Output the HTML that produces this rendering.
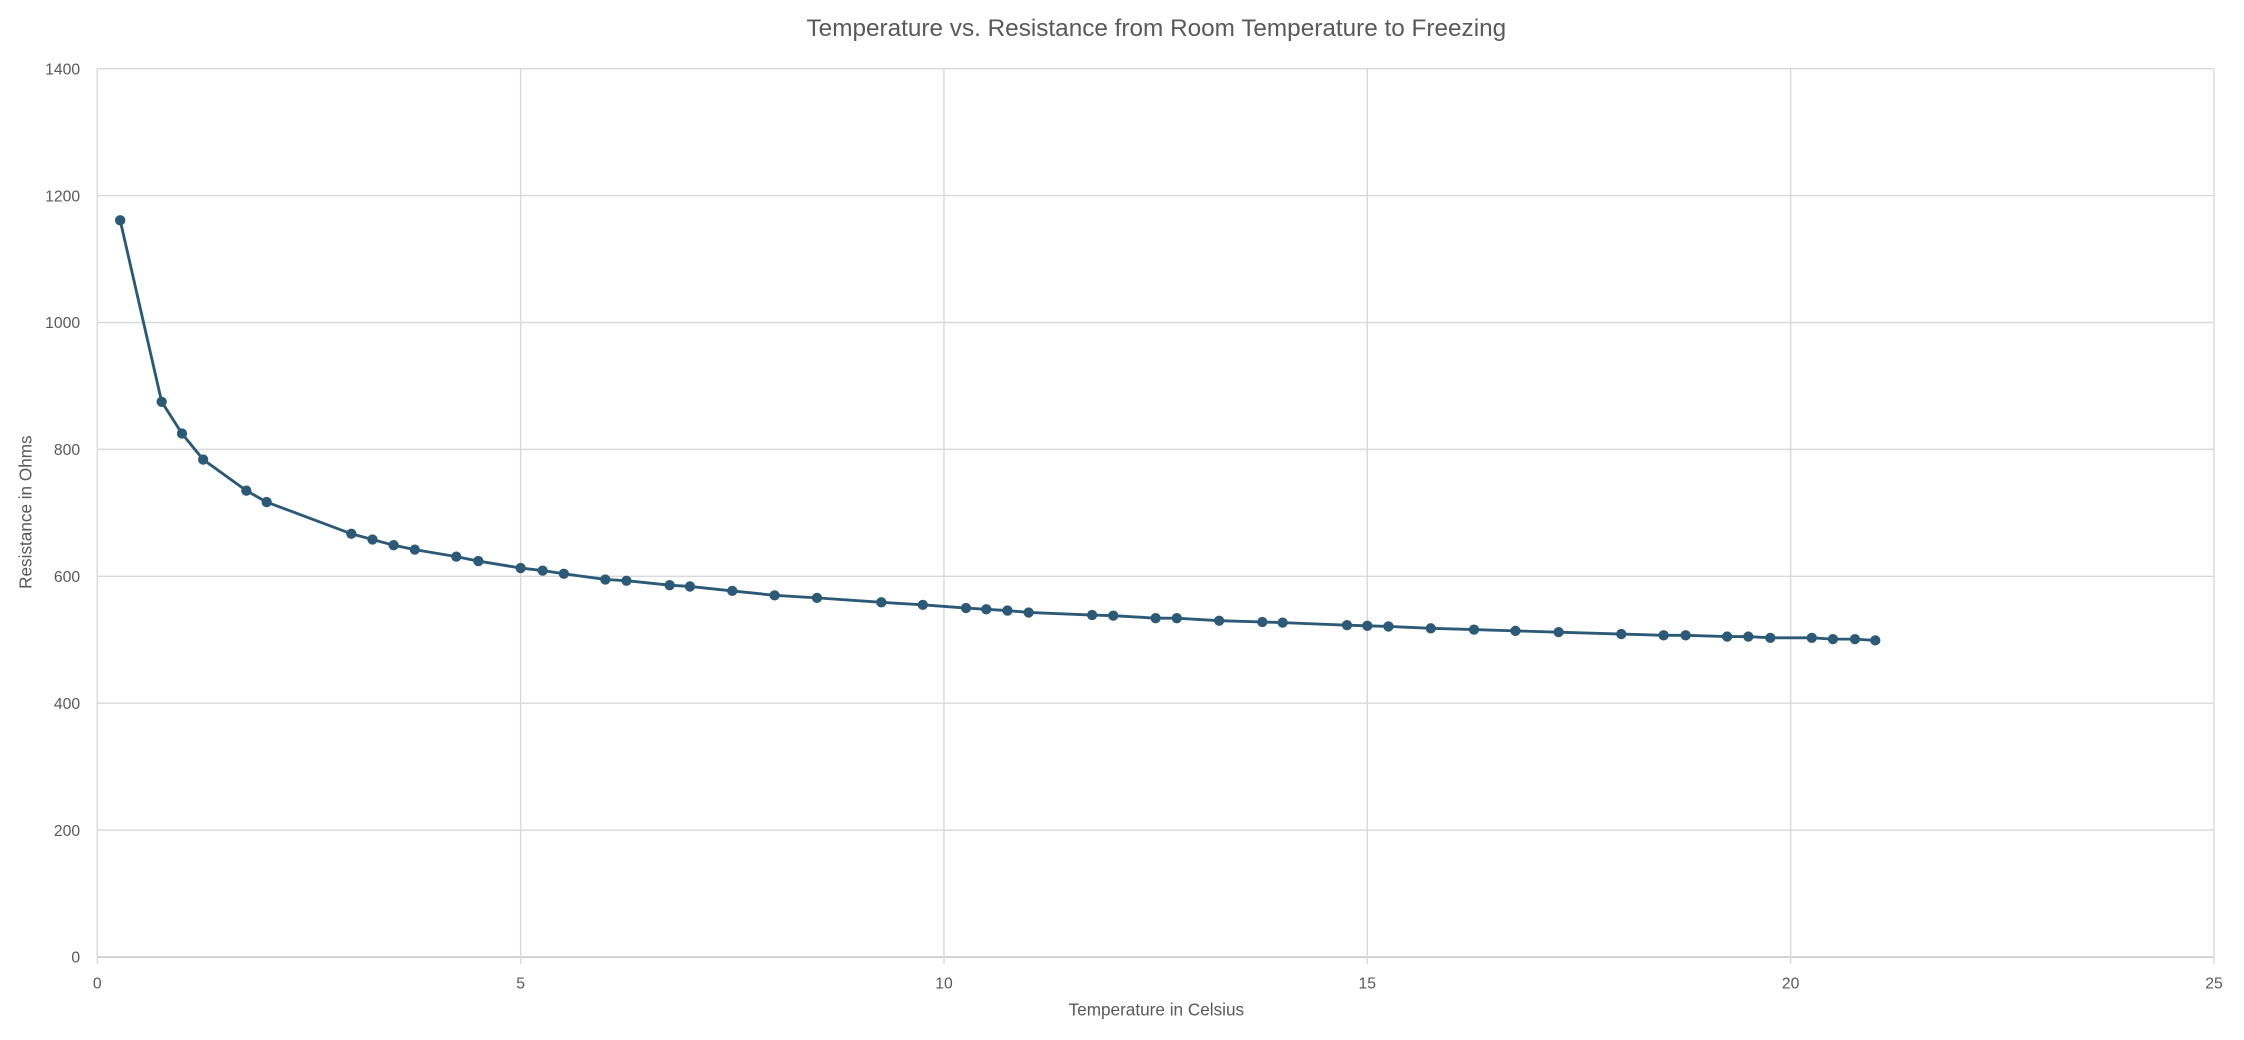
<!DOCTYPE html>
<html><head><meta charset="utf-8"><style>
html,body{margin:0;padding:0;background:#fff;overflow:hidden;}
svg{display:block;font-family:"Liberation Sans",sans-serif;}
</style></head><body>
<svg id="chart" width="2244" height="1040" viewBox="0 0 1568 727" preserveAspectRatio="none">
<rect width="1568" height="727" fill="#fff"/>
<text x="808" y="25" text-anchor="middle" font-size="17" fill="#595959">Temperature vs. Resistance from Room Temperature to Freezing</text>
<g id="grid"></g>
<g id="ticks"></g>
<g id="series"></g>
<text x="808" y="710" text-anchor="middle" font-size="12" fill="#595959">Temperature in Celsius</text>
<text transform="translate(22,358) rotate(-90)" text-anchor="middle" font-size="12" fill="#595959">Resistance in Ohms</text>
</svg>
<script>
const temps=[0.27,0.76,1.0,1.25,1.76,2.0,3.0,3.25,3.5,3.75,4.24,4.5,5.0,5.26,5.51,6.0,6.25,6.76,7.0,7.5,8.0,8.5,9.26,9.75,10.26,10.5,10.75,11.0,11.75,12.0,12.5,12.75,13.25,13.76,14.0,14.76,15.0,15.25,15.75,16.26,16.75,17.26,18.0,18.5,18.76,19.25,19.5,19.76,20.25,20.5,20.76,21.0];
const resistances=[1161,875,825,784,735,717,667,658,649,642,631,624,613,609,604,595,593,586,584,577,570,566,559,555,550,548,546,543,539,538,534,534,530,528,527,523,522,521,518,516,514,512,509,507,507,505,505,503,503,501,501,499];
const xTicks=[0,5,10,15,20,25];
const yTicks=[0,200,400,600,800,1000,1200,1400];
const X0=68,X1=1547,Y0=669,Y1=48,XMAX=25,YMAX=1400;
const xs=v=>X0+(X1-X0)*v/XMAX, ys=v=>Y0-(Y0-Y1)*v/YMAX;
const NS='http://www.w3.org/2000/svg';
function mk(t,a,p){const e=document.createElementNS(NS,t);for(const k in a)e.setAttribute(k,a[k]);p.appendChild(e);return e;}
const grid=document.getElementById('grid'),ticks=document.getElementById('ticks'),series=document.getElementById('series');
yTicks.forEach(v=>{
 const l=mk('line',{x1:X0,x2:X1,y1:ys(v),y2:ys(v),stroke:v===0?'#bfbfbf':'#d9d9d9','stroke-width':1},grid);
 
 
 const t=mk('text',{x:X0-12,y:ys(v)+4,'text-anchor':'end','font-size':11,fill:'#595959'},ticks);
 t.textContent=v;
 
 
});
xTicks.forEach(v=>{
 const l=mk('line',{x1:xs(v),x2:xs(v),y1:Y1,y2:Y0+5,stroke:'#d9d9d9','stroke-width':1},grid);
 
 
 const t=mk('text',{x:xs(v),y:Y0+22,'text-anchor':'middle','font-size':11,fill:'#595959'},ticks);
 t.textContent=v;
 
 
});
const pts=temps.map((t,i)=>xs(t)+','+ys(resistances[i])).join(' ');
const pl=mk('polyline',{points:pts,fill:'none',stroke:'#2c5a76','stroke-width':2},series);


temps.forEach((t,i)=>{
 const c=mk('circle',{cx:xs(t),cy:ys(resistances[i]),r:3.6,fill:'#2c5a76'},series);
 
 
});
</script>
</body></html>
